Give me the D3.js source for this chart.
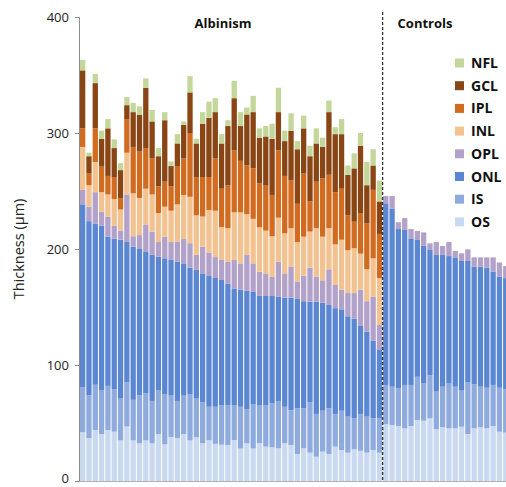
<!DOCTYPE html>
<html><head><meta charset="utf-8">
<script src="https://cdn.jsdelivr.net/npm/d3@7"></script>
<style>
html,body{margin:0;padding:0;background:#fff;}
svg{display:block;font-family:"Open Sans",sans-serif;}
</style></head>
<body><svg id="c" width="506" height="487"></svg>
<script>
// Layer names (bottom -> top order for stacking)
const layers = ["OS","IS","ONL","OPL","INL","IPL","GCL","NFL"];
const legendOrder = ["NFL","GCL","IPL","INL","OPL","ONL","IS","OS"];
const groupLabels = ["Albinism","Controls"];
const yTicks = [0,100,200,300,400];

// Albinism subjects (48): layer thickness in µm
const albNFL = [9,3,8,7,8,7.5,6,7,8,7.5,8,10,7,7,4,8,3,14,4,10,14,12,8,5,15,12,6,14,8,9,13,21,9,15,7,11,9,13,8,10,6,13,8,13,11,20,14,18];
const albGCL = [50,15,39,24,41,25,24,12,30,31.5,52,32,26,53,17.5,20,29,35,29,46,51,40,39,51,45,30,44,48.5,39.4,42.4,48.4,33,30,43,47,39,39,33,27,54,50,47,35,46,58,33,21,28];
const albIPL = [16,10,29,22,16,19,10,29,40,40,35,31,23,21.5,21,32.5,31.4,55,33,34,28.4,45,33,37,53.4,44.4,42,43.5,37.9,38.8,35.6,58,49.5,41,33,54.4,26,40,50.4,46,45,44,30,22.9,35,39.5,59,38];
const albINL = [37,18.5,26,17,19,23,18,36,37,32,31.3,32,25,25.9,27,32,38,40,34,26,36.6,40,28,29,41.1,44,35.2,38.4,38.2,36.8,35,38,34.5,33,34,33.6,31,42,37.6,35.5,35,43,37,38.6,31,27.5,33,40.5];
const albOPL = [12.5,12.5,27,12,17.4,11,8,41,9,12,22.7,20,12.6,18.6,15,17.5,21,21,13,23,20.3,18,17.7,19,24.5,22.6,30.8,24.6,20.5,19.5,16.5,30,21,27,15,22,29.4,21.4,19.3,30.8,20,17,20,22,31.4,26.3,38,21];
const albONL = [157.5,150,139,142,128.6,130,137,121,132,126,122.4,126,115.4,117,117.4,120,114,109,111,111,112.7,111,107.8,104.5,100.5,101,102,96.6,95,94,92.5,90,94,97,94.4,92.4,86.6,96.8,93.1,89.1,91.2,87.4,86.5,86,75.8,73.2,67,59.5];
const albIS  = [39,37,39,37.5,38,36.5,36,38,35,41.5,40.6,36.5,37.5,43.4,35.6,32,33.1,40,33.4,35.5,29,32,34.2,34.5,30.2,36,29.5,38.4,32.5,35.9,38,40.8,31.5,30,39.3,34.4,43.6,36.9,35.3,39.3,28.2,33.9,31.1,26.7,31.8,31.1,27.3,29.6];
const albOS  = [42,37,44,40.5,44,42.5,35,47,35,32.5,35,32.5,40.5,31.6,38,37,40.5,35,37.6,32.5,35,32,31.3,31,35.3,28,32.5,28,32.5,29.6,29,28.2,32.5,31,23.3,28.2,24.4,20.9,25.3,23.3,29.6,26.7,24.4,27.3,26,24.4,26.7,24.4];

// Controls (20): inner retinal layers not shown
const ctlOPL = [6.3,10.8,5.8,10.2,8,7.7,11.4,5.2,11.2,7.8,12.1,5.5,6.6,10,8,8,8.8,12.2,12.1,10.4];
const ctlONL = [156.6,153.6,137.3,133.6,126.4,118,118.9,108.5,117.8,113.5,109.9,111.5,111.8,104.4,101.5,103.5,103.6,97.8,95.9,95.9];
const ctlIS  = [33.9,33,32.5,37.4,35.4,37.2,32,37.2,32.5,35,38.6,35.9,31.1,44.8,37.9,35,35,35.4,37.9,37.3];
const ctlOS  = [48.9,48.3,47.4,45.4,47.4,52.6,52,54,44.5,46.3,45.4,45.4,46.8,40.5,45.4,46.3,45.4,47.4,42.5,41.7];

const colors = {NFL:"#c4d79b",GCL:"#8a4514",IPL:"#d06b1f",INL:"#f2c291",OPL:"#b2a1c9",ONL:"#5b87d2",IS:"#8fabde",OS:"#c8d9f0"};

// Build table
const rows = [];
albNFL.forEach((_,i)=>rows.push({id:i,group:0,NFL:albNFL[i],GCL:albGCL[i],IPL:albIPL[i],INL:albINL[i],OPL:albOPL[i],ONL:albONL[i],IS:albIS[i],OS:albOS[i]}));
ctlOS.forEach((_,i)=>rows.push({id:albNFL.length+i,group:1,NFL:0,GCL:0,IPL:0,INL:0,OPL:ctlOPL[i],ONL:ctlONL[i],IS:ctlIS[i],OS:ctlOS[i]}));

const svg = d3.select("#c");
const step = 6.3, left = 80;
const x = d3.scaleBand().domain(rows.map(d=>d.id)).range([left, left + step*rows.length]).paddingInner(0.16).paddingOuter(0);
const y = d3.scaleLinear().domain([0,400]).range([481,17]);

const stack = d3.stack().keys(layers)(rows);
svg.append("g").selectAll("g").data(stack).join("g")
  .attr("fill", s=>colors[s.key])
  .selectAll("rect").data(s=>s).join("rect")
  .attr("x", d=>x(d.data.id))
  .attr("width", x.bandwidth())
  .attr("y", d=>y(d[1]))
  .attr("height", d=>Math.max(0, y(d[0])-y(d[1])));

// Axes
const yAxis = d3.axisLeft(y).tickValues(yTicks).tickSize(4).tickPadding(6);
const ga = svg.append("g").attr("transform","translate(79,0)").call(yAxis);
ga.select(".domain").attr("stroke","#8c8c8c");
ga.selectAll(".tick line").attr("stroke","#8c8c8c");
ga.selectAll(".tick text").attr("font-size","13px").attr("fill","#222").attr("font-family","Open Sans")
  .attr("dy", d => d === 0 ? "0.1em" : "0.32em");
svg.append("line").attr("x1",79).attr("x2",506).attr("y1",y(0)+0.5).attr("y2",y(0)+0.5).attr("stroke","#b0b0b0");

svg.append("text").attr("transform","translate(24,"+y(200)+") rotate(-90)")
  .attr("text-anchor","middle").attr("font-size","14.5px").attr("fill","#222").text("Thickness (µm)");

// Divider between groups
const nAlb = albNFL.length;
const xd = x(nAlb) - (step - x.bandwidth())/2;
svg.append("line").attr("x1",xd).attr("x2",xd).attr("y1",12).attr("y2",481)
  .attr("stroke","#333").attr("stroke-width",1.3).attr("stroke-dasharray","3,2");

// Group labels
svg.append("text").attr("x",223).attr("y",28).attr("text-anchor","middle").attr("font-weight","bold").attr("font-size","13px").attr("fill","#111").text(groupLabels[0]);
svg.append("text").attr("x",425).attr("y",28).attr("text-anchor","middle").attr("font-weight","bold").attr("font-size","13px").attr("fill","#111").text(groupLabels[1]);

// Legend
const lg = svg.append("g").selectAll("g").data(legendOrder).join("g")
  .attr("transform",(d,i)=>"translate(455,"+(63+i*22.7)+")");
lg.append("rect").attr("x",0).attr("y",-4.5).attr("width",9).attr("height",9).attr("fill",d=>colors[d]);
lg.append("text").attr("x",16).attr("y",5).attr("font-weight","bold").attr("font-size","14px").attr("fill","#111").text(d=>d);
</script></body></html>
